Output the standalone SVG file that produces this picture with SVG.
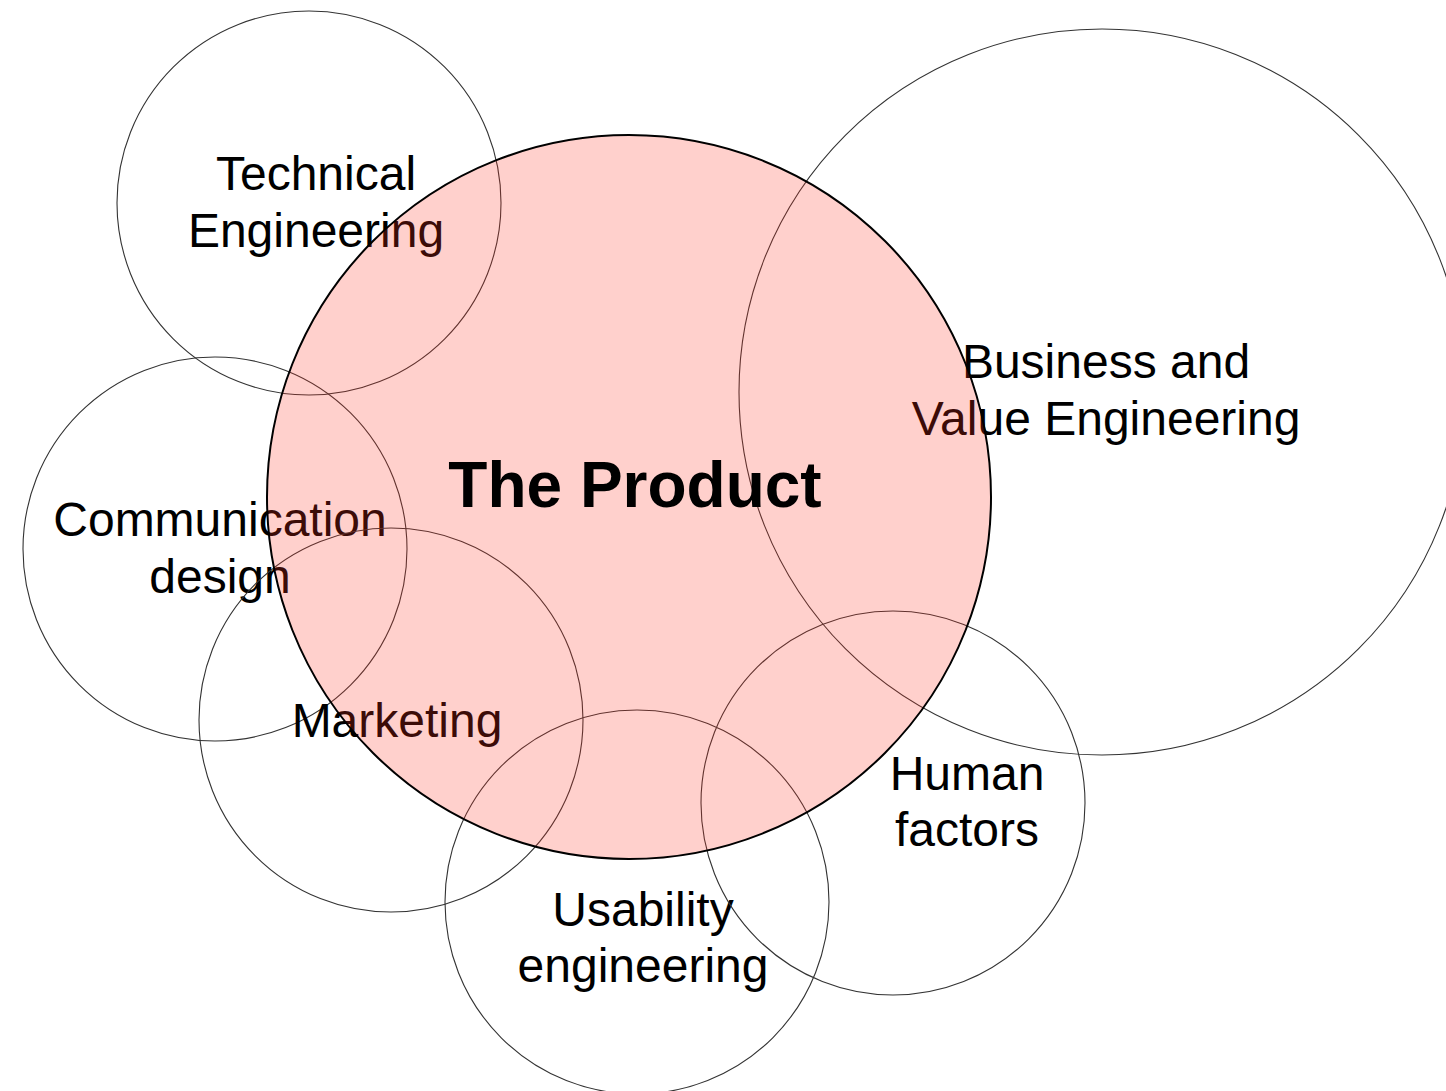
<svg xmlns="http://www.w3.org/2000/svg" width="1446" height="1091" viewBox="0 0 1446 1091">
<style>
.ring{fill:none;stroke:#333;stroke-width:1.1}
.lbl{font-family:"Liberation Sans",Arial,sans-serif;font-size:48px;fill:#000;text-anchor:middle}
.main{font-family:"Liberation Sans",Arial,sans-serif;font-size:64px;font-weight:bold;fill:#000;text-anchor:middle}
</style>
<rect width="1446" height="1091" fill="#fff"/>
<g id="technical-engineering">
<circle class="ring" cx="309" cy="203" r="192"/>
<text class="lbl" x="316" y="190">Technical</text>
<text class="lbl" x="316" y="247">Engineering</text>
</g>
<g id="business-value-engineering">
<circle class="ring" cx="1102" cy="392" r="363"/>
<text class="lbl" x="1106" y="378">Business and</text>
<text class="lbl" x="1106" y="435">Value Engineering</text>
</g>
<g id="communication-design">
<circle class="ring" cx="215" cy="549" r="192"/>
<text class="lbl" x="220" y="536">Communication</text>
<text class="lbl" x="220" y="593">design</text>
</g>
<g id="marketing">
<circle class="ring" cx="391" cy="720" r="192"/>
<text class="lbl" x="397" y="737">Marketing</text>
</g>
<g id="usability-engineering">
<circle class="ring" cx="637" cy="902" r="192"/>
<text class="lbl" x="643" y="926">Usability</text>
<text class="lbl" x="643" y="982">engineering</text>
</g>
<g id="human-factors">
<circle class="ring" cx="893" cy="803" r="192"/>
<text class="lbl" x="967" y="790">Human</text>
<text class="lbl" x="967" y="846">factors</text>
</g>
<g id="the-product">
<circle cx="629" cy="497" r="362" fill="#ff3322" fill-opacity="0.23" stroke="#000" stroke-width="2"/>
<text class="main" x="635" y="507">The Product</text>
</g>
<g id="connectors"/>
</svg>
